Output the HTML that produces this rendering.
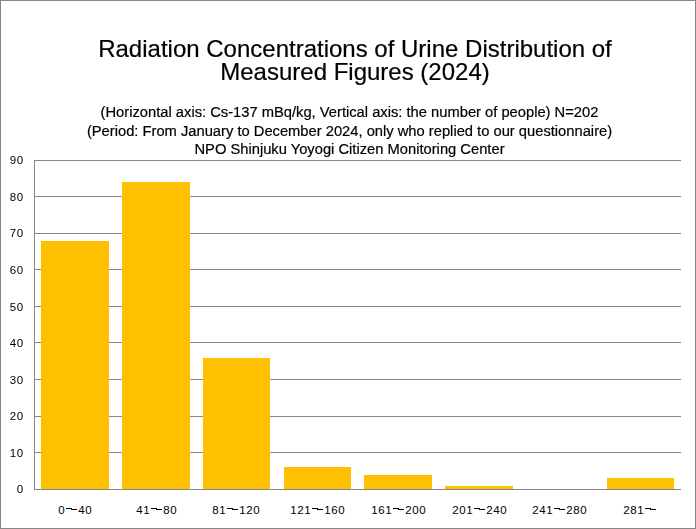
<!DOCTYPE html>
<html><head><meta charset="utf-8">
<style>
html,body{margin:0;padding:0;background:#fff;}
body{--sy:1;--ts:0.2px;width:696px;height:529px;position:relative;overflow:hidden;font-family:"Liberation Sans",sans-serif;color:#000;}
#frame{position:absolute;left:0;top:0;width:694px;height:527px;border:1px solid #868686;}
svg{position:absolute;left:0;top:0;}
.t{position:absolute;white-space:nowrap;text-align:center;line-height:20px;height:20px;will-change:transform;-webkit-text-stroke:var(--ts,0px) #000;}
.title{font-size:24px;left:0;width:710px;line-height:28px;height:28px;}
.sub{font-size:14.72px;left:0;width:699px;transform:scaleY(var(--sy,1));transform-origin:0 0;}
.lb{position:absolute;display:flex;height:12px;font-size:11.5px;line-height:12px;white-space:nowrap;}
.lb b{font-weight:normal;display:block;width:7px;text-align:center;}
.lb i{display:block;width:13px;position:relative;}
.lb i:before{content:"";position:absolute;left:1px;top:var(--ty);width:6px;height:1px;background:#000;}
.lb i:after{content:"";position:absolute;left:6px;top:calc(var(--ty) + 1px);width:6px;height:1px;background:#000;}
</style></head>
<body>
<div id="frame"></div>
<svg width="696" height="529" shape-rendering="crispEdges">
<g fill="#868686">
<rect x="35" y="160" width="646" height="1"/>
<rect x="35" y="196" width="646" height="1"/>
<rect x="35" y="233" width="646" height="1"/>
<rect x="35" y="269" width="646" height="1"/>
<rect x="35" y="306" width="646" height="1"/>
<rect x="35" y="342" width="646" height="1"/>
<rect x="35" y="379" width="646" height="1"/>
<rect x="35" y="416" width="646" height="1"/>
<rect x="35" y="452" width="646" height="1"/>
<rect x="34" y="489" width="647" height="1"/>
<rect x="34" y="160" width="1" height="330"/>
</g>
<g fill="#FFC000">
<rect x="41" y="241" width="68" height="248"/>
<rect x="122" y="182" width="68" height="307"/>
<rect x="203" y="358" width="67" height="131"/>
<rect x="284" y="467" width="67" height="22"/>
<rect x="364" y="475" width="68" height="14"/>
<rect x="445" y="486" width="68" height="3"/>
<rect x="607" y="478" width="67" height="11"/>
</g>
</svg>
<div class="t title" style="top:35.0px">Radiation Concentrations of Urine Distribution of</div>
<div class="t title" style="top:58.0px">Measured Figures (2024)</div>
<div class="t sub" style="top:102.0px">(Horizontal axis: Cs-137 mBq/kg, Vertical axis: the number of people) N=202</div>
<div class="t sub" style="top:121.0px">(Period: From January to December 2024, only who replied to our questionnaire)</div>
<div class="t sub" style="top:139.0px">NPO Shinjuku Yoyogi Citizen Monitoring Center</div>
<div class="lb" style="left:9.5px;top:154px"><b>9</b><b>0</b></div>
<div class="lb" style="left:9.5px;top:191px"><b>8</b><b>0</b></div>
<div class="lb" style="left:9.5px;top:227px"><b>7</b><b>0</b></div>
<div class="lb" style="left:9.5px;top:264px"><b>6</b><b>0</b></div>
<div class="lb" style="left:9.5px;top:301px"><b>5</b><b>0</b></div>
<div class="lb" style="left:9.5px;top:337px"><b>4</b><b>0</b></div>
<div class="lb" style="left:9.5px;top:374px"><b>3</b><b>0</b></div>
<div class="lb" style="left:9.5px;top:410px"><b>2</b><b>0</b></div>
<div class="lb" style="left:9.5px;top:447px"><b>1</b><b>0</b></div>
<div class="lb" style="left:16.5px;top:483px"><b>0</b></div>
<div class="lb" style="left:58px;top:504.0px;--ty:4px"><b>0</b><i class="tl"></i><b>4</b><b>0</b></div>
<div class="lb" style="left:136px;top:504.0px;--ty:4px"><b>4</b><b>1</b><i class="tl"></i><b>8</b><b>0</b></div>
<div class="lb" style="left:212px;top:504.0px;--ty:4px"><b>8</b><b>1</b><i class="tl"></i><b>1</b><b>2</b><b>0</b></div>
<div class="lb" style="left:290px;top:504.0px;--ty:4px"><b>1</b><b>2</b><b>1</b><i class="tl"></i><b>1</b><b>6</b><b>0</b></div>
<div class="lb" style="left:371px;top:504.0px;--ty:4px"><b>1</b><b>6</b><b>1</b><i class="tl"></i><b>2</b><b>0</b><b>0</b></div>
<div class="lb" style="left:452px;top:504.0px;--ty:4px"><b>2</b><b>0</b><b>1</b><i class="tl"></i><b>2</b><b>4</b><b>0</b></div>
<div class="lb" style="left:532px;top:504.0px;--ty:4px"><b>2</b><b>4</b><b>1</b><i class="tl"></i><b>2</b><b>8</b><b>0</b></div>
<div class="lb" style="left:623px;top:504.0px;--ty:4px"><b>2</b><b>8</b><b>1</b><i class="tl"></i></div>
</body></html>
